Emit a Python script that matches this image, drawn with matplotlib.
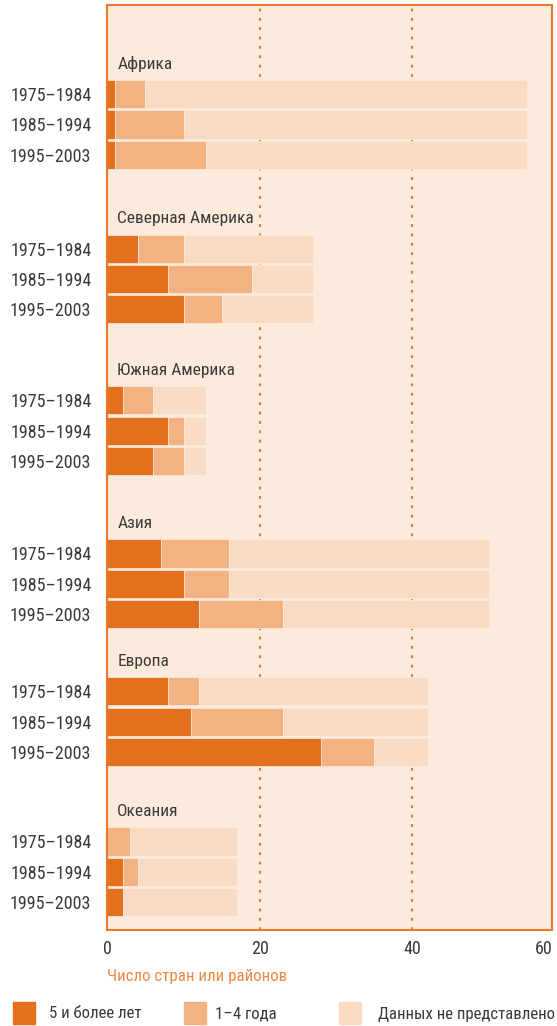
import matplotlib
matplotlib.use('Agg')
import matplotlib.pyplot as plt
from matplotlib.patches import Rectangle
import numpy as np

plt.rcParams['font.family'] = ['Roboto Condensed', 'Roboto', 'DejaVu Sans']

# regions and periods
regions = ['Африка', 'Северная Америка', 'Южная Америка', 'Азия', 'Европа', 'Океания']
periods = ['1975–1984', '1985–1994', '1995–2003']

# number of countries / areas, per region, per period
five_plus = [[1, 1, 1], [4, 8, 10], [2, 8, 6], [7, 10, 12], [8, 11, 28], [0, 2, 2]]
one_to_four = [[4, 9, 12], [6, 11, 5], [4, 2, 4], [9, 6, 11], [4, 12, 7], [3, 2, 0]]
no_data = [[50, 45, 42], [17, 8, 12], [7, 3, 3], [34, 34, 27], [30, 19, 7], [14, 13, 15]]

legend_labels = ['5 и более лет', '1–4 года', 'Данных не представлено']
colors = ['#E4701E', '#F3B282', '#F9DBC4']
bg = '#FCEBDC'
frame_col = '#E8782A'
text_col = '#3a3a3a'

# vertical start of each group (in rows)
group_start = [0, 5.1, 10.1, 15.15, 19.7, 24.65]

fig = plt.figure(figsize=(5.57, 10.26), dpi=100)
ax = fig.add_axes([107.3 / 557, 1 - 930 / 1026, (552 - 107.3) / 557, 925 / 1026])
ax.set_facecolor(bg)

ypos, ylabels = [], []
for g, region in enumerate(regions):
    y = group_start[g] + np.arange(len(periods))
    left = np.zeros(len(periods))
    for series, col in zip([five_plus[g], one_to_four[g], no_data[g]], colors):
        ax.barh(y, series, left=left, height=0.93, color=col,
                edgecolor=bg, linewidth=0.5)
        left += np.array(series)
    ax.text(1.3, group_start[g] - 1.0, region, fontsize=12.5, color=text_col,
            va='center', ha='left')
    ypos.extend(y)
    ylabels.extend(periods)

ax.set_ylim(group_start[-1] + 2 + 0.92, -2.94)
ax.set_xlim(0, 58.3)

for xg in [20, 40]:
    ax.axvline(xg, color=frame_col, lw=1.5, linestyle=(0, (1.3, 3.2)), zorder=0.5)

ax.set_yticks(ypos)
ax.set_yticklabels(ylabels, fontsize=13, color=text_col)
ax.set_xticks([0, 20, 40])
ax.set_xticklabels(['0', '20', '40'], fontsize=13, color=text_col)
ax.tick_params(axis='both', length=0)
ax.tick_params(axis='y', pad=11.5)
ax.tick_params(axis='x', pad=7)
ax.text(1.002, -0.0105, '60', transform=ax.transAxes, ha='right', va='top',
        fontsize=13, color=text_col)

for s in ax.spines.values():
    s.set_color(frame_col)
    s.set_linewidth(1.5)

fig.text(107 / 557, 1 - 977 / 1026, 'Число стран или районов', fontsize=12.2,
         color='#EC8A45', ha='left', va='center')

# legend
leg_x = [13, 184, 339]
leg_text_x = [49, 215, 378]
for lx, tx, col, lab in zip(leg_x, leg_text_x, colors, legend_labels):
    fig.add_artist(Rectangle((lx / 557, 1 - 1024 / 1026), 22 / 557, 22 / 1026,
                             transform=fig.transFigure, color=col))
    fig.text(tx / 557, 1 - 1014 / 1026, lab, fontsize=12.1, color=text_col,
             ha='left', va='center')

fig.savefig('out.png', dpi=100)
